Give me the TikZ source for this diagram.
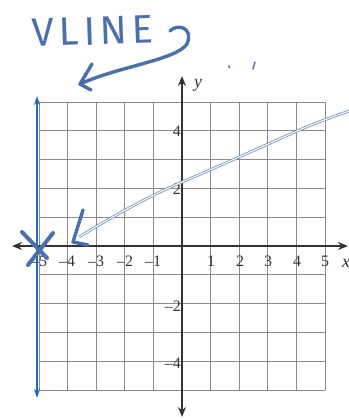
\documentclass[tikz,border=0pt]{standalone}
\usepackage{fontspec}
\setmainfont{Liberation Serif}
\newfontfamily\handfont[LetterSpace=12]{Fira Sans}
\usetikzlibrary{arrows.meta}
\definecolor{gridc}{HTML}{8A8A8A}
\definecolor{axisc}{HTML}{333333}
\definecolor{vblue}{HTML}{1C6DB5}
\definecolor{marker}{HTML}{4B6FAA}
\definecolor{curvec}{HTML}{6F90BE}
\tikzset{
  gridline/.style={draw=gridc, line width=0.7bp},
  axisline/.style={draw=axisc, line width=1.8bp, {Stealth[length=10bp,width=8bp]}-{Stealth[length=10bp,width=8bp]}},
  vlinestyle/.style={draw=vblue, line width=2bp, {Stealth[length=9bp,width=6bp]}-{Stealth[length=9bp,width=6bp]}},
  mk/.style={draw=marker, line width=3.4bp, line cap=round, line join=round},
  curvestyle/.style={draw=curvec, line width=0.8bp, double=white, double distance=1.1bp},
  tick/.style={font=\fontsize{16}{16}\selectfont, inner sep=0pt, text=axisc},
}
\begin{document}
\begin{tikzpicture}[x=1bp,y=-1bp]
\useasboundingbox (0,0) rectangle (349,419);
% grid
\foreach \i in {0,...,10} {
  \draw[gridline] ({39+28.6*\i},102) -- ({39+28.6*\i},390);
  \draw[gridline] (39,{102+28.8*\i}) -- (325,{102+28.8*\i});
}
% axes
\coordinate (xl) at (12,246);
\coordinate (xr) at (348,246);
\coordinate (yt) at (182,76);
\coordinate (yb) at (182,417);
\draw[axisline] (xl) -- (xr);
\draw[axisline] (yb) -- (yt);
\node[tick, font=\fontsize{18}{18}\selectfont\itshape] (ylab) at (198,85) {y};
\node[tick, font=\fontsize{18}{18}\selectfont\itshape] (xlab) at (346,263) {x};
% x tick labels
\foreach \v/\p in {5/39,4/67,3/96,2/125,1/153} {
  \node[tick] (xt\p) at (\p,261) {–\v};
}
\node[tick] (x1) at (211,261) {1};
\node[tick] (x2) at (240,261) {2};
\node[tick] (x3) at (268,261) {3};
\node[tick] (x4) at (297,261) {4};
\node[tick] (x5) at (325,261) {5};
% y tick labels
\node[tick, anchor=east] (y4) at (181,131) {4};
\node[tick, anchor=east] (y2) at (181,189) {2};
\node[tick, anchor=east] (ym2) at (181,306) {–2};
\node[tick, anchor=east] (ym4) at (181,363) {–4};
% vertical line x=-5
\coordinate (vt) at (37,96);
\coordinate (vb) at (37,398);
\draw[vlinestyle] (vb) -- (vt);
% handwritten curve
\coordinate (c0) at (79,237);
\draw[curvestyle] (c0) .. controls (120,212) and (150,196) .. (182,182)
  .. controls (220,166) and (270,143) .. (297,131)
  .. controls (315,123) and (335,116) .. (352,110);
% handwritten arrowhead on curve
\coordinate (ctip) at (73,242);
\draw[mk] (83,210) -- (ctip) -- (88,245);
% X mark
\coordinate (xm) at (37,246);
\draw[mk, line width=4bp] (22,232) -- (47,258);
\draw[mk, line width=4bp] (53,233) -- (28,265);
% VLINE annotation
\node[text=marker, font=\handfont\fontsize{40}{40}\selectfont, inner sep=0pt, rotate=2] (vline) at (93,31) {VLINE};
\coordinate (hs) at (170,31);
\coordinate (ht) at (80,84);
\draw[mk] (hs) .. controls (176,24) and (194,26) .. (187,44)
  .. controls (176,60) and (120,66) .. (ht);
\draw[mk] (92,64) -- (ht) -- (91,90);
% small marks
\draw[mk, line width=1.6bp] (229,66) -- (229.5,67.5);
\draw[mk, line width=1.4bp] (255,62) -- (253,69);
\end{tikzpicture}
\end{document}
